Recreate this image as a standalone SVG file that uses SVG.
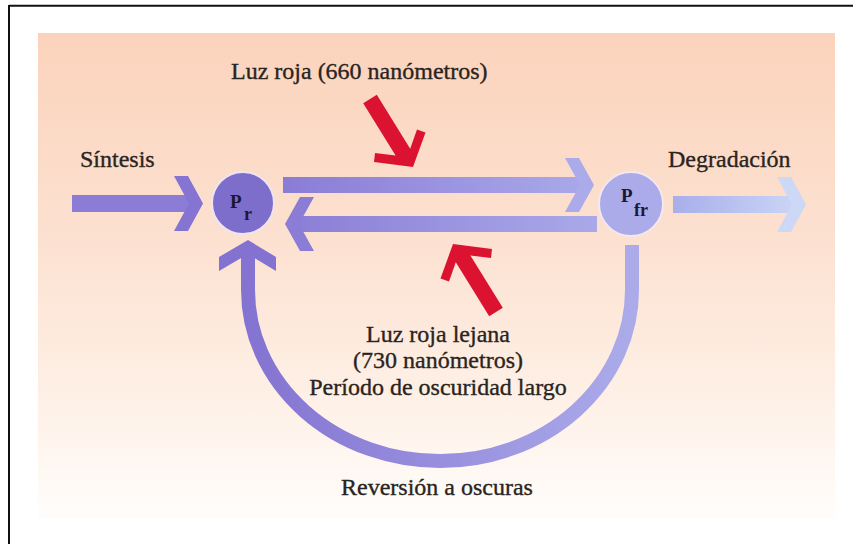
<svg xmlns="http://www.w3.org/2000/svg" width="853" height="544" viewBox="0 0 853 544">
  <defs>
    <linearGradient id="panelGrad" x1="0" y1="0" x2="0" y2="1">
      <stop offset="0" stop-color="#FBD3BC"/>
      <stop offset="0.4" stop-color="#FCE0CF"/>
      <stop offset="0.75" stop-color="#FEF0E6"/>
      <stop offset="1" stop-color="#FFFDFB"/>
    </linearGradient>
    <linearGradient id="topGrad" gradientUnits="userSpaceOnUse" x1="283" y1="0" x2="597" y2="0">
      <stop offset="0" stop-color="#8A7CD6"/>
      <stop offset="1" stop-color="#ABAAEA"/>
    </linearGradient>
    <linearGradient id="botGrad" gradientUnits="userSpaceOnUse" x1="285" y1="0" x2="597" y2="0">
      <stop offset="0" stop-color="#8B7DD6"/>
      <stop offset="1" stop-color="#A9A9E9"/>
    </linearGradient>
    <linearGradient id="degGrad" gradientUnits="userSpaceOnUse" x1="673" y1="0" x2="806" y2="0">
      <stop offset="0" stop-color="#A9AEEA"/>
      <stop offset="1" stop-color="#CDD8F6"/>
    </linearGradient>
    <linearGradient id="arcGrad" gradientUnits="userSpaceOnUse" x1="248" y1="0" x2="632" y2="0">
      <stop offset="0" stop-color="#8473D1"/>
      <stop offset="1" stop-color="#ABABEA"/>
    </linearGradient>
  </defs>
  <style>
    .lbl { font-size: 24px; fill: #2A2421; stroke: #2A2421; stroke-width: 0.35px; }
    .mid { text-anchor: middle; }
    .sym { font-weight: bold; fill: #1C1733; }
    .red { fill: #DC1330; }
  </style>

  <g id="background">
    <rect x="0" y="0" width="853" height="544" fill="#FFFFFF"/>
    <rect x="38" y="33" width="797" height="485" fill="url(#panelGrad)"/>
    <line x1="9" y1="5.8" x2="853" y2="5.8" stroke="#111111" stroke-width="2"/>
    <line x1="9" y1="5" x2="9" y2="544" stroke="#111111" stroke-width="2"/>
  </g>

  <g id="connectors">
    <g id="arrow-sintesis">
      <rect x="72" y="195" width="121" height="17" fill="#8B7DD6"/>
      <polygon points="174,176 188,176 203,203.5 188,231 174,231 189,203.5" fill="#8574D2"/>
    </g>
    <g id="arrow-pr-pfr">
      <rect x="283" y="177" width="300" height="16" fill="url(#topGrad)"/>
      <polygon points="565,158 579,158 594,185 579,212 565,212 580,185" fill="#ABAAEA"/>
    </g>
    <g id="arrow-pfr-pr">
      <rect x="296" y="216" width="301" height="16" fill="url(#botGrad)"/>
      <polygon points="314,197 300,197 285,224 300,251 314,251 299,224" fill="#8B7DD6"/>
    </g>
    <g id="arrow-degradacion">
      <rect x="673" y="196" width="122" height="17" fill="url(#degGrad)"/>
      <polygon points="777,177 791,177 806,204.5 791,232 777,232 792,204.5" fill="#CDD8F6"/>
    </g>
    <g id="arrow-reversion">
      <path d="M632,245 L632,290 A192,171 0 0 1 248,290 L248,252" fill="none" stroke="url(#arcGrad)" stroke-width="14"/>
      <polygon points="219,271 219,257 248,240 276,257 276,271 248,254" fill="#8372D0"/>
    </g>
    <polygon id="arrow-red-660" class="red" points="363.2,103.2 376.8,94.8 410.2,148.8 417,129.5 425.5,132.6 413,167 374,162 375,153 395.6,155.6"/>
    <polygon id="arrow-red-730" class="red" points="502.8,307.8 489.2,316.2 455.8,262.2 449,281.5 440.5,278.4 453,244 492,249 491,258 470.4,255.4"/>
  </g>

  <g id="node-pr" font-family="Liberation Serif, DejaVu Serif, serif">
    <circle cx="243" cy="203" r="31" fill="#7E6ECB" stroke="#EFE4F0" stroke-width="2"/>
    <text class="sym" x="230" y="208" font-size="19">P</text>
    <text class="sym" x="244" y="220" font-size="18">r</text>
  </g>

  <g id="node-pfr" font-family="Liberation Serif, DejaVu Serif, serif">
    <circle cx="631" cy="204" r="32" fill="#ABABE9" stroke="#F3E8EE" stroke-width="2"/>
    <text class="sym" x="621" y="202" font-size="19">P</text>
    <text class="sym" x="634" y="216" font-size="18">fr</text>
  </g>

  <g id="labels" font-family="Liberation Serif, DejaVu Serif, serif">
    <text class="lbl" x="231" y="79">Luz roja (660 nanómetros)</text>
    <text class="lbl" x="80" y="167">Síntesis</text>
    <text class="lbl" x="668" y="167">Degradación</text>
    <text class="lbl mid" x="438" y="342">Luz roja lejana</text>
    <text class="lbl mid" x="438" y="368">(730 nanómetros)</text>
    <text class="lbl mid" x="438" y="395">Período de oscuridad largo</text>
    <text class="lbl mid" x="437" y="495">Reversión a oscuras</text>
  </g>
</svg>
